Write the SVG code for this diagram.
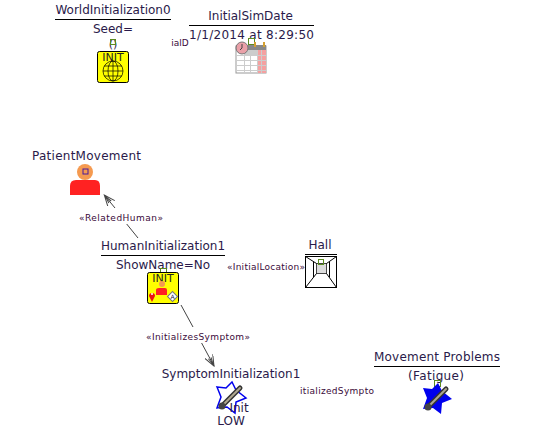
<svg xmlns="http://www.w3.org/2000/svg" width="534" height="440" viewBox="0 0 534 440">
<style>
text{font-family:"DejaVu Sans",sans-serif;fill:#2a1a4a}
.n{font-size:12px;text-anchor:middle}
.l{font-size:9px;text-anchor:middle;fill:#3a0a3a}
.r{stroke:#000;stroke-width:1;fill:none}
.t{stroke:#000;stroke-width:.7;fill:none}
.c{stroke:#444;stroke-width:1;fill:none}
.g{fill:none;stroke:#5a8a20;stroke-width:1}
.init{fill:#ffff00;stroke:#000;stroke-width:1}
.it{font-size:11px;text-anchor:middle;fill:#222}
</style>
<defs>
<marker id="a" markerWidth="12" markerHeight="12" refX="11" refY="4.500" orient="auto" markerUnits="userSpaceOnUse"><path d="M0 0L11 4.500L0 9M2 3L9 4.500L2 6" fill="none" stroke="#444" stroke-width="1"/></marker>
<g id="therm"><path d="M-8 8L9 -9" stroke="#333" stroke-width="5" stroke-linecap="round"/><path d="M-7 7L9 -9" stroke="#b0a890" stroke-width="2" stroke-linecap="round"/><circle cx="-9" cy="9" r="3.500" fill="#444"/></g>
<polygon id="star" points="-14,-10 -5,-9 1,-15 5,-7 15,1 5,5 4,16 -4,10 -14,11 -10,0"/>
</defs>
<g id="connectors">
<path class="c" d="M138 238L126.700 224"/>
<path class="c" d="M115 208L104.300 195" marker-end="url(#a)"/>
<path class="c" d="M181 305L193 327"/>
<path class="c" d="M201.600 343L214 366" marker-end="url(#a)"/>
</g>
<g id="WorldInitialization0">
<text class="n" x="113" y="14">WorldInitialization0</text>
<path class="r" d="M55 19.500H171"/>
<text class="n" x="113" y="33">Seed=</text>
<text class="n" x="113" y="48" style="font-size:11px">()</text>
<rect class="g" x="110.500" y="39.500" width="5" height="5"/>
<rect class="init" x="97.500" y="51.500" width="31" height="31" rx="2"/>
<text class="it" x="113" y="61">INIT</text>
<circle class="t" cx="113" cy="71" r="10"/><ellipse class="t" cx="113" cy="71" rx="5" ry="10"/><path class="t" d="M103 71H123M104 66H122M104 76H122M113 61V81"/>
</g>
<g id="InitialSimDate">
<text class="n" x="250.500" y="20">InitialSimDate</text>
<path class="r" d="M189 25.500H314"/>
<text class="n" x="251.500" y="38.500" textLength="125">1/1/2014 at 8:29:50</text>
<rect class="g" x="248.500" y="38.500" width="6" height="6"/>
<rect x="236" y="46" width="30" height="27" fill="#fff" stroke="#999"/>
<rect x="236" y="45" width="30" height="5" fill="#888"/>
<rect x="257" y="50" width="9" height="23" fill="#f5a0a0"/>
<rect x="244" y="50" width="13" height="5" fill="#ccc"/>
<path d="M236 55.500H266M236 60.500H266M236 65.500H266M236 70.500H266M244.500 50V73M250.500 50V73M257.500 50V73M261.500 50V73" stroke="#ccc" fill="none"/>
<path d="M255 42V47M264 42V47" stroke="#d4a030" stroke-width="2"/>
<circle cx="242" cy="48" r="6" fill="#eaa0a8" stroke="#777"/><path d="M242 44V48L240 50" stroke="#444" fill="none"/>
</g>
<g id="PatientMovement">
<text class="n" x="86.500" y="160" textLength="109">PatientMovement</text>
<circle cx="85" cy="172" r="8" fill="#f59a50"/>
<rect x="83" y="169" width="5" height="5" fill="none" stroke="#4a1a9a"/>
<path d="M70 195V186Q70 180 76 180H95Q100 180 100 186V195Z" fill="#ff2222"/>
</g>
<g id="HumanInitialization1">
<text class="n" x="163" y="250">HumanInitialization1</text>
<path class="r" d="M101 255.500H225"/>
<text class="n" x="163" y="269">ShowName=No</text>
<rect class="g" x="160.500" y="268.500" width="6" height="4"/>
<rect class="init" x="147.500" y="272.500" width="31" height="31" rx="2"/>
<text class="it" x="163" y="281.500">INIT</text>
<circle cx="162" cy="284" r="3" fill="#f59a50"/>
<path d="M156 295V290Q156 288 159 288H165Q167 288 167 290V295Z" fill="#ff2222"/>
<path d="M152 302L149 296A3 3 0 1 1 155 296Z" fill="#ee1111"/>
<circle cx="152" cy="294" r="1" fill="#fff"/>
<rect x="169" y="293" width="7" height="7" transform="rotate(45 172.500 296.500)" fill="#fff" stroke="#777"/>
<text x="172.500" y="299" style="font-size:6px;text-anchor:middle">A</text>
</g>
<g id="Hall">
<text class="n" x="320" y="249">Hall</text>
<path class="r" d="M305 254.500H337"/>
<rect x="305.500" y="256.500" width="31" height="31" fill="#fff" stroke="#000"/>
<rect x="316.500" y="263.500" width="10" height="10" fill="#ddd" stroke="#444"/>
<path class="r" d="M305.500 256.500L316.500 263.500M336.500 256.500L326.500 263.500M305.500 287.500L316.500 273.500M336.500 287.500L326.500 273.500M313.500 262V277M329.500 262V277"/>
<rect class="g" x="318.500" y="259.500" width="5" height="5"/>
</g>
<g id="SymptomInitialization1">
<text class="n" x="231" y="378">SymptomInitialization1</text>
<use href="#star" x="231" y="397" fill="#fff" stroke="#0000ee" stroke-width="1.500"/>
<use href="#therm" x="231" y="397"/>
<text class="n" x="239" y="412">Init</text>
<text class="n" x="231" y="425">LOW</text>
</g>
<g id="MovementProblems">
<text class="n" x="437" y="361" textLength="126">Movement Problems</text>
<path class="r" d="M374 366.500H500"/>
<text class="n" x="436" y="380" textLength="56">(Fatigue)</text>
<rect class="g" x="434.500" y="380.500" width="6" height="6"/>
<use href="#star" x="437" y="398" fill="#0000ee"/>
<use href="#therm" x="437" y="398"/>
</g>
<g id="labels">
<text class="l" x="121" y="221" textLength="84">«RelatedHuman»</text>
<text class="l" x="266" y="270" textLength="78">«InitialLocation»</text>
<text class="l" x="198" y="340" textLength="104">«InitializesSymptom»</text>
<text class="l" x="180" y="46">ialD</text>
<text class="l" x="337" y="394" textLength="74">itializedSympto</text>
</g>
</svg>
